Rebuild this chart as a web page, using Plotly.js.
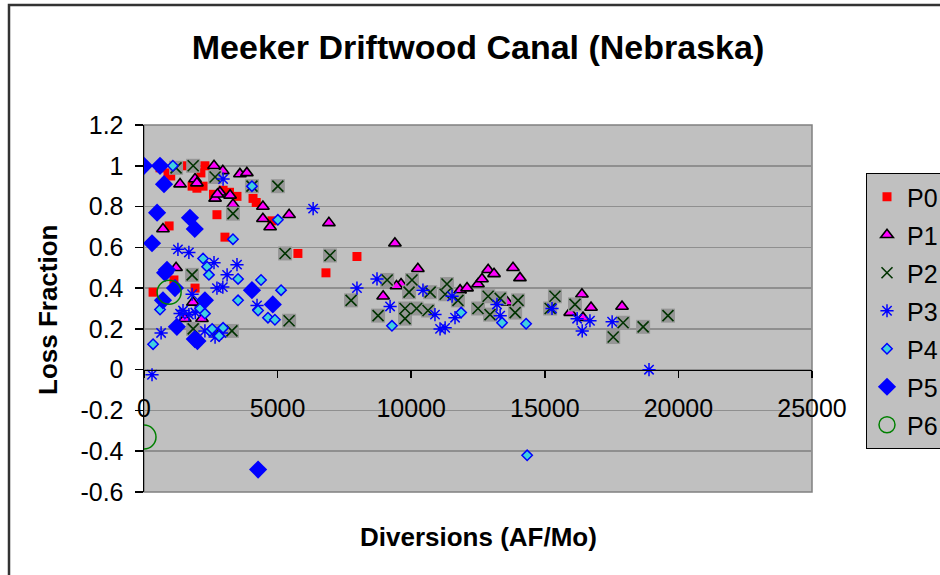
<!DOCTYPE html>
<html>
<head>
<meta charset="utf-8">
<script src="https://cdn.plot.ly/plotly-3.0.1.min.js"></script>
<style>html,body{margin:0;padding:0;background:#fff;}#chart{width:940px;height:575px;}</style>
</head>
<body>
<div id="chart"></div>
<script>
const seriesNames = ['P0','P1','P2','P3','P4','P5','P6'];

const p0x = [340,600,900,1000,1230,1600,2130,2280,1800,1980,2210,2600,2960,3200,3480,4080,4200,2730,3030,940,4790,5760,6810,7970,1120,1910];
const p0y = [0.38,0.99,0.965,0.95,0.99,1.0,0.965,1.0,0.90,0.89,0.90,0.86,0.88,0.87,0.85,0.84,0.82,0.76,0.65,0.705,0.73,0.57,0.475,0.555,0.44,0.40];

const p1x = [710,1200,1350,1910,1980,1830,1530,2170,2620,2950,2660,2840,2750,3220,3330,3590,3850,4450,4450,4720,5430,6920,8950,9390,9620,10250,9450,11830,12090,12500,12650,12880,13100,13810,14070,13600,15950,16390,16430,16730,17890];
const p1y = [0.69,0.50,0.91,0.935,0.915,0.33,0.25,0.25,1.0,0.975,0.84,0.87,0.86,0.855,0.81,0.96,0.965,0.80,0.74,0.70,0.76,0.72,0.36,0.62,0.42,0.495,0.41,0.39,0.40,0.42,0.445,0.49,0.47,0.50,0.45,0.33,0.28,0.37,0.255,0.305,0.31];

const p2x = [1200,1840,2660,4040,5010,3330,5280,6960,1800,1840,2770,3290,5430,7750,8760,9100,9770,9770,9920,10030,10200,10630,10710,11270,11340,11750,12500,12880,12950,13330,13890,14000,15200,15380,16130,17560,17930,18680,19610];
const p2y = [0.99,1.0,0.945,0.90,0.90,0.765,0.57,0.56,0.465,0.20,0.19,0.19,0.24,0.34,0.265,0.44,0.30,0.25,0.38,0.44,0.30,0.29,0.38,0.37,0.42,0.34,0.30,0.36,0.27,0.35,0.28,0.34,0.30,0.36,0.32,0.16,0.23,0.21,0.265];

const p3x = [300,640,1270,1680,1350,1680,1460,1800,1920,2280,2620,2660,2960,2730,2950,3110,3480,2900,4230,6330,7970,8720,9210,10440,10890,11080,11270,11530,11640,13210,13330,15270,16210,16400,16690,17520,18900];
const p3y = [-0.025,0.18,0.59,0.575,0.275,0.27,0.29,0.37,0.28,0.19,0.525,0.16,0.935,0.40,0.405,0.465,0.515,0.18,0.315,0.79,0.40,0.445,0.31,0.39,0.27,0.20,0.205,0.36,0.255,0.32,0.265,0.30,0.25,0.19,0.24,0.235,0.0];

const p4x = [1080,4040,5010,3330,2210,2360,2430,3520,4380,5130,3520,4270,4640,4900,600,2100,2280,2470,2550,2810,2960,340,9280,11870,13400,14300,14340];
const p4y = [1.0,0.90,0.735,0.64,0.545,0.505,0.465,0.445,0.44,0.39,0.34,0.29,0.255,0.245,0.295,0.30,0.275,0.19,0.20,0.165,0.205,0.125,0.215,0.28,0.23,0.225,-0.42];

const p5x = [0,600,750,490,300,1720,1900,860,790,1160,710,2280,1230,1900,2000,4040,4820,4270];
const p5y = [1.0,1.0,0.91,0.77,0.62,0.745,0.69,0.49,0.475,0.40,0.34,0.34,0.21,0.15,0.14,0.39,0.32,-0.49];

const p6x = [0,940];
const p6y = [-0.33,0.38];

const xTickVals = [0,5000,10000,15000,20000,25000];
const xTickText = ['0','5000','10000','15000','20000','25000'];
const yTickVals = [1.2,1,0.8,0.6,0.4,0.2,0,-0.2,-0.4,-0.6];
const yTickText = ['1.2','1','0.8','0.6','0.4','0.2','0','-0.2','-0.4','-0.6'];

const FONT = 'Liberation Sans, Arial, sans-serif';

const traces = [
  {x:p0x, y:p0y, name:seriesNames[0], legendgroup:'g0', type:'scatter', mode:'markers',
   marker:{symbol:'square', size:9, color:'#ff0000'}},
  {x:p1x, y:p1y, name:seriesNames[1], legendgroup:'g1', type:'scatter', mode:'markers',
   marker:{symbol:'triangle-up', size:11, color:'#ff00ff', line:{color:'#000000', width:1.6}}},
  {x:p2x, y:p2y, name:seriesNames[2], showlegend:false, type:'scatter', mode:'markers',
   marker:{symbol:'square', size:14, color:'#969696'}},
  {x:p2x, y:p2y, name:seriesNames[2], legendgroup:'g2', type:'scatter', mode:'markers',
   marker:{symbol:'x-thin-open', size:11, color:'#003300', line:{color:'#003300', width:1.6}}},
  {x:p3x, y:p3y, name:seriesNames[3], legendgroup:'g3', type:'scatter', mode:'markers',
   marker:{symbol:'asterisk-open', size:11, color:'#0000ff', line:{color:'#0000ff', width:1.5}}},
  {x:p4x, y:p4y, name:seriesNames[4], legendgroup:'g4', type:'scatter', mode:'markers',
   marker:{symbol:'diamond', size:8, color:'#40d0e0', line:{color:'#0000ff', width:1.5}}},
  {x:p5x, y:p5y, name:seriesNames[5], legendgroup:'g5', type:'scatter', mode:'markers',
   marker:{symbol:'diamond', size:14, color:'#0000ff'}},
  {x:p6x, y:p6y, name:seriesNames[6], legendgroup:'g6', type:'scatter', mode:'markers',
   marker:{symbol:'circle-open', size:24, color:'#008000', line:{color:'#008000', width:1.5}}}
];

const layout = {
  width:940, height:575,
  margin:{l:144, r:128, t:125, b:83, pad:0, autoexpand:false},
  paper_bgcolor:'#ffffff',
  plot_bgcolor:'#c0c0c0',
  font:{family:FONT, color:'#000000', size:25},
  title:{text:'<b>Meeker Driftwood Canal (Nebraska)</b>', font:{family:FONT, size:34, color:'#000'},
         xref:'paper', x:0.5, xanchor:'center', yref:'container', y:1-47/575, yanchor:'middle'},
  xaxis:{range:[0,25000], tickvals:xTickVals, ticktext:xTickText, anchor:'free', position:1/3,
         showline:true, linecolor:'#000000', linewidth:1.5, ticks:'outside', ticklen:7, tickwidth:1.5, tickcolor:'#000',
         showgrid:false, zeroline:false, ticklabelstandoff:9, tickfont:{size:25}, automargin:false},
  yaxis:{range:[-0.6,1.2], tickvals:yTickVals, ticktext:yTickText, showline:true, linecolor:'#000000', linewidth:1.5,
         ticks:'outside', ticklen:8, tickwidth:1.5, tickcolor:'#000', showgrid:true, gridcolor:'#8f8f8f', gridwidth:1.5,
         zeroline:false, ticklabelstandoff:6, tickfont:{size:25}, automargin:false},
  legend:{x:(866-144)/668, y:(492-173)/367, xanchor:'left', yanchor:'top', bgcolor:'#c0c0c0',
          bordercolor:'#000000', borderwidth:1, font:{size:25, family:FONT}, traceorder:'grouped', tracegroupgap:2.5, itemwidth:30},
  showlegend:true,
  annotations:[
    {text:'<b>Diversions (AF/Mo)</b>', xref:'paper', yref:'paper', x:0.5, y:(492-537)/367, xanchor:'center', yanchor:'middle',
     showarrow:false, font:{size:26, family:FONT}},
    {text:'<b>Loss Fraction</b>', xref:'paper', yref:'paper', x:(48-144)/668, y:(492-310)/367, xanchor:'center', yanchor:'middle',
     textangle:-90, showarrow:false, font:{size:26, family:FONT}}
  ],
  shapes:[
    {type:'rect', xref:'paper', yref:'paper', x0:0, x1:1, y0:0, y1:1, line:{color:'#808080', width:1.5}, layer:'below'},
    {type:'rect', xref:'paper', yref:'paper', x0:(9-144)/668, x1:1.3, y0:-0.4, y1:(492-5)/367, line:{color:'#333333', width:2.5}}
  ]
};

Plotly.newPlot('chart', traces, layout, {displayModeBar:false, staticPlot:true});
</script>
</body>
</html>
